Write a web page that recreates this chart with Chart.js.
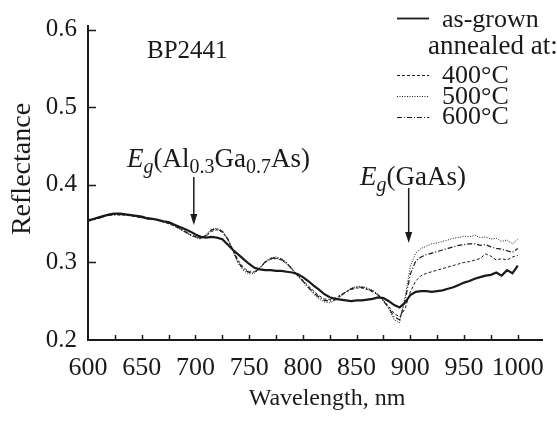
<!DOCTYPE html>
<html>
<head>
<meta charset="utf-8">
<script src="https://cdn.jsdelivr.net/npm/chart.js"></script>
<style>
  html, body { margin: 0; padding: 0; background: #fff; }
  #wrap { width: 557px; height: 421px; position: relative; }
</style>
</head>
<body>
<div id="wrap"><canvas id="chart"></canvas></div>
<script>
// wavelength, nm (every 5 nm)
const wavelengths = [
  600, 605, 610, 615, 620, 625, 630, 635, 640, 645,
  650, 655, 660, 665, 670, 675, 680, 685, 690, 695,
  700, 705, 710, 715, 720, 725, 730, 735, 740, 745,
  750, 755, 760, 765, 770, 775, 780, 785, 790, 795,
  800, 805, 810, 815, 820, 825, 830, 835, 840, 845,
  850, 855, 860, 865, 870, 875, 880, 885, 890, 895,
  900, 905, 910, 915, 920, 925, 930, 935, 940, 945,
  950, 955, 960, 965, 970, 975, 980, 985, 990, 995,
  1000
];

const asGrown = [
  0.354, 0.356, 0.358, 0.360, 0.362, 0.363, 0.363, 0.362, 0.361, 0.360,
  0.359, 0.357, 0.356, 0.355, 0.353, 0.352, 0.349, 0.346, 0.343, 0.340,
  0.336, 0.333, 0.332, 0.333, 0.332, 0.330, 0.323, 0.316, 0.310, 0.304,
  0.298, 0.293, 0.291, 0.290, 0.290, 0.289, 0.289, 0.288, 0.287, 0.285,
  0.281, 0.276, 0.270, 0.265, 0.259, 0.255, 0.253, 0.252, 0.251, 0.250,
  0.251, 0.251, 0.252, 0.253, 0.255, 0.254, 0.250, 0.245, 0.242, 0.248,
  0.258, 0.262, 0.263, 0.263, 0.262, 0.263, 0.264, 0.266, 0.268, 0.271,
  0.274, 0.276, 0.279, 0.281, 0.283, 0.284, 0.287, 0.283, 0.290, 0.286,
  0.296
];

const annealed400 = [
  0.353, 0.355, 0.357, 0.359, 0.361, 0.362, 0.361, 0.361, 0.360, 0.359,
  0.358, 0.357, 0.356, 0.354, 0.352, 0.350, 0.347, 0.344, 0.340, 0.336,
  0.333, 0.331, 0.334, 0.340, 0.342, 0.339, 0.330, 0.316, 0.302, 0.293,
  0.288, 0.288, 0.293, 0.300, 0.304, 0.305, 0.303, 0.298, 0.291, 0.284,
  0.277, 0.270, 0.263, 0.257, 0.253, 0.252, 0.254, 0.258, 0.262, 0.265,
  0.267, 0.267, 0.265, 0.262, 0.258, 0.251, 0.243, 0.234, 0.230, 0.240,
  0.262, 0.276, 0.283, 0.286, 0.288, 0.290, 0.292, 0.294, 0.296, 0.298,
  0.300, 0.301, 0.303, 0.305, 0.311, 0.308, 0.303, 0.305, 0.303, 0.307,
  0.309
];

const annealed500 = [
  0.352, 0.355, 0.357, 0.360, 0.361, 0.362, 0.362, 0.361, 0.360, 0.359,
  0.357, 0.356, 0.355, 0.355, 0.352, 0.350, 0.347, 0.343, 0.339, 0.335,
  0.332, 0.330, 0.336, 0.343, 0.344, 0.341, 0.331, 0.314, 0.298, 0.289,
  0.285, 0.286, 0.292, 0.301, 0.306, 0.307, 0.305, 0.300, 0.292, 0.283,
  0.275, 0.267, 0.259, 0.253, 0.249, 0.248, 0.251, 0.256, 0.262, 0.267,
  0.269, 0.269, 0.267, 0.264, 0.259, 0.251, 0.240, 0.226, 0.222, 0.255,
  0.295, 0.312, 0.318, 0.321, 0.324, 0.325, 0.327, 0.329, 0.331, 0.332,
  0.334, 0.333, 0.335, 0.332, 0.333, 0.330, 0.331, 0.327, 0.329, 0.324,
  0.330
];

const annealed600 = [
  0.354, 0.356, 0.357, 0.359, 0.361, 0.361, 0.362, 0.361, 0.361, 0.359,
  0.358, 0.356, 0.356, 0.354, 0.353, 0.351, 0.348, 0.344, 0.340, 0.336,
  0.333, 0.331, 0.335, 0.342, 0.343, 0.340, 0.330, 0.315, 0.300, 0.291,
  0.287, 0.287, 0.293, 0.301, 0.305, 0.306, 0.304, 0.299, 0.291, 0.283,
  0.276, 0.268, 0.261, 0.255, 0.251, 0.250, 0.252, 0.257, 0.262, 0.266,
  0.268, 0.268, 0.266, 0.263, 0.258, 0.250, 0.241, 0.230, 0.226, 0.250,
  0.285, 0.302, 0.307, 0.310, 0.312, 0.314, 0.316, 0.318, 0.320, 0.322,
  0.323, 0.324, 0.324, 0.322, 0.323, 0.320, 0.318, 0.317, 0.315, 0.313,
  0.318
];

const xTickLabels = [600, 650, 700, 750, 800, 850, 900, 950, 1000];
const yTickLabels = [0.2, 0.3, 0.4, 0.5, 0.6];
const legendLabels = ['as-grown', 'annealed at:', '400°C', '500°C', '600°C'];

const FONT = "'Liberation Serif', 'Times New Roman', serif";
const INK = '#1a1a1a';

function pts(values) {
  return wavelengths.map((w, i) => ({ x: w, y: values[i] }));
}

// arrows, labels, legend and inward ticks
const decorations = {
  id: 'decorations',
  afterDraw(chart) {
    const ctx = chart.ctx;
    const xs = chart.scales.x;
    const ys = chart.scales.y;
    const area = chart.chartArea;
    ctx.save();
    ctx.strokeStyle = INK;
    ctx.fillStyle = INK;

    // inward ticks
    ctx.lineWidth = 1.5;
    ctx.beginPath();
    for (let w = 625; w <= 1000; w += 25) {
      const px = Math.round(xs.getPixelForValue(w)) + 0.5;
      ctx.moveTo(px, area.bottom);
      ctx.lineTo(px, area.bottom - 5);
    }
    yTickLabels.slice(1).forEach(v => {
      const py = Math.round(ys.getPixelForValue(v)) + 0.5;
      ctx.moveTo(area.left, py);
      ctx.lineTo(area.left + 8, py);
    });
    ctx.stroke();

    // axis titles
    ctx.font = '24px ' + FONT;
    ctx.textAlign = 'center';
    ctx.textBaseline = 'alphabetic';
    ctx.fillText('Wavelength, nm', 327, 405);
    ctx.save();
    ctx.translate(30, 169);
    ctx.rotate(-Math.PI / 2);
    ctx.font = '28px ' + FONT;
    ctx.fillText('Reflectance', 0, 0);
    ctx.restore();

    // sample name
    ctx.textAlign = 'left';
    ctx.font = '25px ' + FONT;
    ctx.fillText('BP2441', 147, 58);

    // legend
    const sets = chart.data.datasets;
    const rows = [
      { ds: sets[0], text: legendLabels[0], y: 18, base: 27, tx: 442, size: 26 },
      { ds: null, text: legendLabels[1], y: 0, base: 54, tx: 428, size: 27 },
      { ds: sets[1], text: legendLabels[2], y: 75, base: 83, tx: 442, size: 26 },
      { ds: sets[2], text: legendLabels[3], y: 96, base: 104, tx: 442, size: 26 },
      { ds: sets[3], text: legendLabels[4], y: 117, base: 124, tx: 442, size: 26 }
    ];
    rows.forEach(r => {
      if (r.ds) {
        ctx.save();
        ctx.lineWidth = r.ds === sets[0] ? 1.8 : 1;
        ctx.setLineDash(r.ds.borderDash || []);
        ctx.beginPath();
        ctx.moveTo(397, r.y + 0.5);
        ctx.lineTo(429, r.y + 0.5);
        ctx.stroke();
        ctx.restore();
      }
      ctx.font = r.size + 'px ' + FONT;
      ctx.fillText(r.text, r.tx, r.base);
    });

    // annotation labels with subscripts
    function runs(parts, x, y) {
      parts.forEach(p => {
        ctx.font = (p.it ? 'italic ' : '') + (p.sub ? '20px ' : '27px ') + FONT;
        ctx.fillText(p.t, x, y + (p.sub ? 6 : 0));
        x += ctx.measureText(p.t).width;
      });
    }
    runs([
      { t: 'E', it: true }, { t: 'g', it: true, sub: true },
      { t: '(Al' }, { t: '0.3', sub: true }, { t: 'Ga' }, { t: '0.7', sub: true }, { t: 'As)' }
    ], 127, 167);
    runs([
      { t: 'E', it: true }, { t: 'g', it: true, sub: true }, { t: '(GaAs)' }
    ], 360, 185);

    // arrows
    function arrow(x, y0, y1) {
      ctx.lineWidth = 1.5;
      ctx.beginPath();
      ctx.moveTo(x, y0);
      ctx.lineTo(x, y1 - 8);
      ctx.stroke();
      ctx.beginPath();
      ctx.moveTo(x - 3.5, y1 - 11);
      ctx.lineTo(x + 3.5, y1 - 11);
      ctx.lineTo(x, y1);
      ctx.closePath();
      ctx.fill();
    }
    arrow(xs.getPixelForValue(698) + 0.5, 177, 225);
    arrow(xs.getPixelForValue(898) + 0.5, 188, 243);

    ctx.restore();
  }
};

new Chart(document.getElementById('chart'), {
  type: 'scatter',
  data: {
    datasets: [
      { label: 'as-grown', data: pts(asGrown), borderColor: INK, borderWidth: 2.2, borderDash: [] },
      { label: '400°C', data: pts(annealed400), borderColor: INK, borderWidth: 1, borderDash: [3, 2] },
      { label: '500°C', data: pts(annealed500), borderColor: INK, borderWidth: 1, borderDash: [1, 1.5] },
      { label: '600°C', data: pts(annealed600), borderColor: INK, borderWidth: 1.2, borderDash: [5, 2, 1, 2] }
    ].map(d => Object.assign(d, { showLine: true, pointRadius: 0, tension: 0, fill: false }))
  },
  options: {
    responsive: true,
    maintainAspectRatio: false,
    animation: false,
    events: [],
    layout: { padding: { top: 18, right: 4, left: 0, bottom: 0 } },
    plugins: { legend: { display: false }, tooltip: { enabled: false } },
    scales: {
      x: {
        type: 'linear',
        min: 600,
        max: 1022.7,
        afterFit(scale) { scale.height = 81; },
        afterBuildTicks(scale) {
          scale.ticks = xTickLabels.map(v => ({ value: v }));
        },
        grid: { display: false, drawTicks: false, tickLength: 0 },
        border: { display: true, color: INK, width: 2 },
        ticks: {
          padding: 13,
          maxRotation: 0,
          autoSkip: false,
          color: INK,
          font: { family: FONT, size: 26 },
          callback: v => String(v)
        }
      },
      y: {
        type: 'linear',
        min: 0.2,
        max: 0.6047,
        afterFit(scale) { scale.width = 88; },
        afterBuildTicks(scale) {
          scale.ticks = yTickLabels.map(v => ({ value: v }));
        },
        grid: { display: false, drawTicks: false, tickLength: 0 },
        border: { display: true, color: INK, width: 2 },
        ticks: {
          padding: 11,
          color: INK,
          font: { family: FONT, size: 25 },
          callback: v => v.toFixed(1)
        }
      }
    }
  },
  plugins: [decorations]
});
</script>
</body>
</html>
